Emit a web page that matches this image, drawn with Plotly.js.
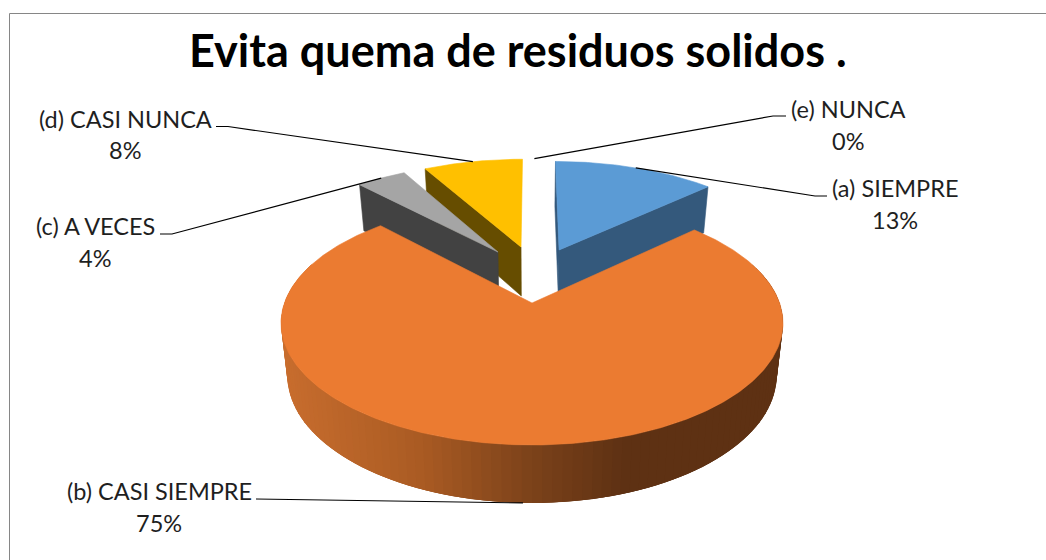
<!DOCTYPE html>
<html>
<head>
<meta charset="utf-8">
<script src="https://cdn.plot.ly/plotly-3.0.1.min.js"></script>
<style>html,body{margin:0;padding:0;background:#fff}#chart{width:1046px;height:560px}</style>
</head>
<body>
<div id="chart"></div>
<script>
const chartTitle = "Evita quema de residuos solidos .";
const categories = ["(a) SIEMPRE", "(b) CASI SIEMPRE", "(c) A VECES", "(d) CASI NUNCA", "(e) NUNCA"];
const percents = [13, 75, 4, 8, 0];
const topColors = ["#5B9BD5", "#EB7B31", "#A5A5A5", "#FFC000", "#44546A"];
const wallColors = ["#34597C", "#7C421A", "#424242", "#664D00", "#2A3442"];
const explodeU = [0.118, 0, -0.148, -0.048, 0.012];
const explodeV = [-0.482, 0, -0.462, -0.511, -0.52];
const labelX = [895, 159, 95, 125, 848];
const nameY = [188, 491, 226, 119, 109];
const percentY = [220, 523, 258, 150, 141];

// Perspective view of the pie's disc: u to the right, v toward the viewer, z = 0 top, 1 bottom
const cx = 532, cy = 303, R = 247.6, B = 118.7, K = 0.164, H = 51.5, SHRINK = 0.025;
function project(u, v, z) {
  const f = 1 / (1 - K * v), s = 1 - SHRINK * z;
  return [cx + R * u * f * s, cy + B * v * f * s + H * f * z];
}
function rim(i, deg, z) {
  const a = deg * Math.PI / 180;
  return project(explodeU[i] + Math.sin(a), explodeV[i] - Math.cos(a), z);
}
function apex(i, z) { return project(explodeU[i], explodeV[i], z); }

const starts = [];
percents.reduce((acc, p, i) => { starts[i] = acc; return acc + p * 3.6; }, 0);

function poly(points, color, width) {
  return {
    type: "scatter", mode: "lines", fill: "toself", fillcolor: color,
    x: points.map(p => p[0]), y: points.map(p => p[1]),
    line: {color: color, width: width === undefined ? 0.6 : width}, hoverinfo: "skip", showlegend: false
  };
}
function line(points) {
  return {
    type: "scatter", mode: "lines",
    x: points.map(p => p[0]), y: points.map(p => p[1]),
    line: {color: "#000000", width: 1.2}, hoverinfo: "skip", showlegend: false
  };
}
function topFace(i) {
  const pts = [apex(i, 0)], a0 = starts[i], a1 = a0 + percents[i] * 3.6;
  const n = Math.max(2, Math.ceil((a1 - a0) * 1.5));
  for (let k = 0; k <= n; k++) pts.push(rim(i, a0 + (a1 - a0) * k / n, 0));
  pts.push(apex(i, 0));
  return poly(pts, topColors[i]);
}
function cutFace(i, deg) {
  return poly([apex(i, 0), rim(i, deg, 0), rim(i, deg, 1), apex(i, 1), apex(i, 0)], wallColors[i]);
}

const gradStops = [[280, [200, 109, 46]], [420, [170, 91, 35]], [530, [124, 66, 26]], [625, [94, 49, 19]], [790, [94, 49, 19]]];
function gradient(x) {
  for (let j = 0; j < gradStops.length - 1; j++) {
    const [x0, c0] = gradStops[j], [x1, c1] = gradStops[j + 1];
    if (x <= x1) {
      const t = Math.max(0, (x - x0) / (x1 - x0));
      return "rgb(" + c0.map((c, q) => Math.round(c + (c1[q] - c) * t)).join(",") + ")";
    }
  }
  return "rgb(94,49,19)";
}

const traces = [];
// blue
traces.push(cutFace(0, starts[0]));
traces.push(cutFace(0, starts[0] + percents[0] * 3.6));
traces.push(topFace(0));
// yellow
traces.push(cutFace(3, starts[3]));
traces.push(topFace(3));
// grey
traces.push(cutFace(2, starts[2]));
traces.push(topFace(2));
// orange outer wall: overlapping strips painted right to left, shaded by screen position
const wallFrom = 70, wallSpan = 220, strips = 110;
for (let k = 0; k < strips; k++) {
  const d0 = wallFrom + wallSpan * k / strips;
  const d1 = wallFrom + wallSpan * Math.min(strips, k + 3) / strips;
  const dm = wallFrom + wallSpan * (k + 0.5) / strips;
  const q = [];
  for (const d of [d0, (d0 + d1) / 2, d1]) q.push(rim(1, d, 0));
  for (const d of [d1, (d0 + d1) / 2, d0]) q.push(rim(1, d, 1));
  q.push(rim(1, d0, 0));
  traces.push(poly(q, gradient(rim(1, dm, 0)[0]), 0));
}
traces.push(topFace(1));

// leader lines, ending on the middle of each slice's rim
function mid(i, z) { return rim(i, starts[i] + percents[i] * 1.8, z); }
traces.push(line([[827, 196], [815, 196], mid(0, 0)]));
traces.push(line([[256, 499], mid(1, 1)]));
traces.push(line([[160, 234], [172, 234], mid(2, 0)]));
traces.push(line([[216, 126.5], [228, 126.5], mid(3, 0)]));
traces.push(line([[786, 116], [773, 116], mid(4, 0)]));

const labelFont = {family: "Lato, 'Open Sans', sans-serif", size: 23.5, color: "#1f1f1f"};
const annotations = [];
categories.forEach((c, i) => {
  annotations.push({x: labelX[i], y: nameY[i], xref: "x", yref: "y", showarrow: false, text: c, font: labelFont});
  annotations.push({x: labelX[i], y: percentY[i], xref: "x", yref: "y", showarrow: false, text: percents[i] + "%", font: labelFont});
});
annotations.push({
  x: 517.5, y: 50, xref: "x", yref: "y", showarrow: false, text: "<b>" + chartTitle + "</b>",
  font: {family: "Lato, 'Open Sans', sans-serif", size: 45, color: "#000000"}
});

const hidden = {visible: false, fixedrange: true};
Plotly.newPlot("chart", traces, {
  width: 1046, height: 560, margin: {l: 0, r: 0, t: 0, b: 0},
  paper_bgcolor: "#ffffff", plot_bgcolor: "#ffffff", showlegend: false,
  xaxis: Object.assign({range: [0, 1046]}, hidden),
  yaxis: Object.assign({range: [560, 0]}, hidden),
  annotations: annotations,
  shapes: [
    {type: "line", xref: "x", yref: "y", x0: 9.5, x1: 9.5, y0: 13.5, y1: 560, line: {color: "#868686", width: 1}},
    {type: "line", xref: "x", yref: "y", x0: 9.5, x1: 1046, y0: 13.5, y1: 13.5, line: {color: "#868686", width: 1}}
  ]
}, {displayModeBar: false, staticPlot: true});
</script>
</body>
</html>
